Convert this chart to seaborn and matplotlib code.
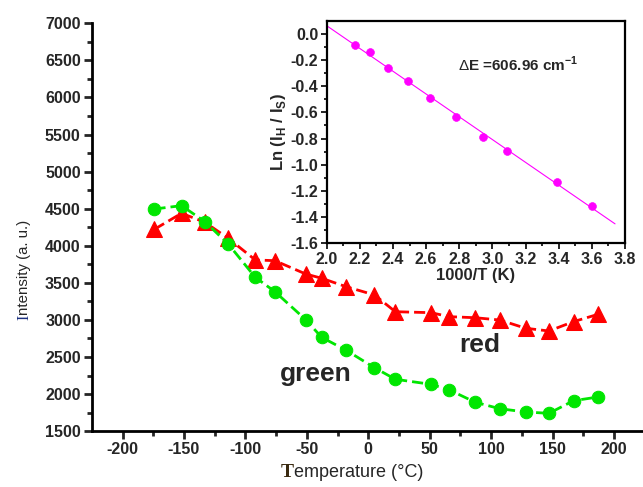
import matplotlib
matplotlib.use("Agg")
import matplotlib.pyplot as plt
import numpy as np
import pandas as pd
import seaborn as sns

# ---- data ----
temp_green = [-174, -152, -133, -114, -92, -76, -51, -38, -18, 5, 22, 51, 66, 87, 107, 128, 147, 167, 187]
int_green = [4496, 4541, 4325, 4024, 3575, 3381, 3004, 2766, 2591, 2356, 2200, 2132, 2056, 1890, 1803, 1759, 1741, 1911, 1961]
temp_red = [-174, -152, -133, -114, -92, -76, -51, -38, -18, 5, 22, 51, 66, 87, 107, 128, 147, 167, 187]
int_red = [4223, 4438, 4317, 4101, 3809, 3799, 3620, 3562, 3448, 3337, 3111, 3098, 3044, 3030, 2999, 2888, 2851, 2977, 3076]

inv_T = [2.169, 2.263, 2.372, 2.493, 2.623, 2.778, 2.943, 3.086, 3.390, 3.603]
ln_ratio = [-0.082, -0.140, -0.260, -0.360, -0.487, -0.635, -0.791, -0.898, -1.130, -1.312]
fit_range = [2.0, 3.74]

x_ticks = [-200, -150, -100, -50, 0, 50, 100, 150, 200]
y_ticks = [1500, 2000, 2500, 3000, 3500, 4000, 4500, 5000, 5500, 6000, 6500, 7000]
inset_xticks = [2.0, 2.2, 2.4, 2.6, 2.8, 3.0, 3.2, 3.4, 3.6, 3.8]
inset_yticks = [0.0, -0.2, -0.4, -0.6, -0.8, -1.0, -1.2, -1.4, -1.6]

sns.set_style("ticks")
plt.rcParams['font.family'] = ['Liberation Sans', 'DejaVu Sans']
plt.rcParams['axes.unicode_minus'] = False
plt.rcParams['mathtext.fontset'] = 'custom'
plt.rcParams['mathtext.rm'] = 'Liberation Sans'
plt.rcParams['mathtext.bf'] = 'Liberation Sans:bold'

fig = plt.figure(figsize=(6.43, 4.87), dpi=100)
ax = fig.add_axes([0.1428, 0.1146, 0.860, 0.8376])

GREEN = "#00E600"
RED = "#FF0000"

df_g = pd.DataFrame({"T": temp_green, "I": int_green})
df_r = pd.DataFrame({"T": temp_red, "I": int_red})

sns.lineplot(data=df_r, x="T", y="I", ax=ax, color=RED, marker="^", markersize=12,
             markeredgecolor=RED, linewidth=2, linestyle=(0, (4, 1.8)), sort=True)
sns.lineplot(data=df_g, x="T", y="I", ax=ax, color=GREEN, marker="o", markersize=9,
             markeredgecolor=GREEN, linewidth=2, linestyle=(0, (4, 1.8)), sort=True)

ax.set_xlim(-225, 225)
ax.set_ylim(1500, 7000)
ax.set_xticks(x_ticks)
ax.set_yticks(y_ticks)
ax.set_xticks(np.arange(-175, 226, 50), minor=True)
ax.set_yticks(np.arange(1750, 7000, 500), minor=True)
for s in ["top", "right"]:
    ax.spines[s].set_visible(False)
for s in ["left", "bottom"]:
    ax.spines[s].set_linewidth(2)
    ax.spines[s].set_color("black")
ax.tick_params(which="major", direction="out", length=6, width=2, labelsize=11.5, pad=2)
ax.tick_params(which="minor", direction="out", length=3.5, width=2)
for lab in ax.get_xticklabels() + ax.get_yticklabels():
    lab.set_fontweight("bold")
ax.set_xlabel("")
ax.set_ylabel("")

# axis labels with serif coloured first letter
t1 = fig.text(0.026, 0.343, "I", family="Liberation Serif", color="#1a2f80",
              fontsize=11.5, rotation=90, ha="left", va="bottom")
ax.annotate("ntensity (a. u.)", xy=(0, 1), xycoords=t1, ha="left", va="bottom",
            rotation=90, fontsize=10.8, annotation_clip=False)
t2 = fig.text(0.437, 0.02, "T", family="Liberation Serif", color="#3a2a10",
              fontsize=14, ha="left", va="baseline", fontweight="bold")
ax.annotate("emperature (°C)", xy=(1, 0), xycoords=t2, ha="left", va="bottom",
            fontsize=13, annotation_clip=False)

ax.text(91, 2660, "red", fontsize=19, fontweight="bold", ha="center", va="center")
ax.text(-43, 2270, "green", fontsize=19, fontweight="bold", ha="center", va="center")

# ---- inset ----
ins = fig.add_axes([0.508, 0.5004, 0.464, 0.4571])
slope, intercept = np.polyfit(inv_T, ln_ratio, 1)
fx = np.array(fit_range)
sns.lineplot(x=fx, y=slope * fx + intercept, ax=ins, color="#FF00FF", linewidth=0.8)
sns.scatterplot(x=inv_T, y=ln_ratio, ax=ins, color="#FF00FF", s=32, edgecolor="#FF00FF", zorder=3)
ins.set_xlim(2.0, 3.8)
ins.set_ylim(-1.6, 0.1)
ins.set_xticks(inset_xticks)
ins.set_yticks(inset_yticks)
ins.set_xticks(np.arange(2.1, 3.8, 0.2), minor=True)
ins.set_yticks(np.arange(-1.5, 0.05, 0.2), minor=True)
ins.set_xticklabels([f"{v:.1f}" for v in inset_xticks])
ins.set_yticklabels([f"{v:.1f}" for v in inset_yticks])
for s in ins.spines.values():
    s.set_linewidth(1.6)
    s.set_color("black")
ins.tick_params(which="major", direction="out", length=4, width=1.4, labelsize=11.5, pad=2)
ins.tick_params(which="minor", direction="out", length=2.2, width=1.4)
for lab in ins.get_xticklabels() + ins.get_yticklabels():
    lab.set_fontweight("bold")
ins.set_xlabel("1000/T (K)", fontsize=12, fontweight="bold", labelpad=1)
ins.set_ylabel(r"Ln (I$_\mathbf{H}$ / I$_\mathbf{S}$)", fontsize=12, fontweight="bold", labelpad=2)
ins.text(2.79, -0.235, r"$\Delta$E =606.96 cm$^{\mathbf{-1}}$", fontsize=11, fontweight="bold",
         ha="left", va="center")

fig.savefig("out.png", dpi=100)
